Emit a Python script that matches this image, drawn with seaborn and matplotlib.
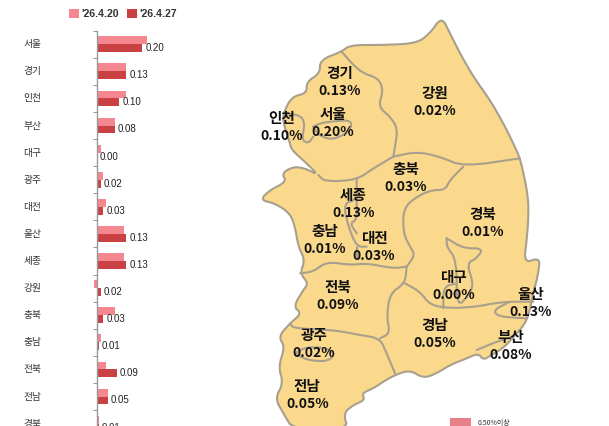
import numpy as np
import pandas as pd
import matplotlib
matplotlib.use("Agg")
import matplotlib.pyplot as plt
from matplotlib.patches import Polygon, Rectangle
from matplotlib.transforms import blended_transform_factory
import seaborn as sns

sns.set_theme(style="white")
plt.rcParams['font.family'] = ['Noto Sans CJK KR', 'DejaVu Sans']

# Bar chart data
regions = ["서울", "경기", "인천", "부산", "대구", "광주", "대전", "울산",
           "세종", "강원", "충북", "충남", "전북", "전남", "경북"]
week_prev = [0.22, 0.13, 0.13, 0.08, 0.02, 0.03, 0.04, 0.12,
             0.12, -0.01, 0.08, 0.02, 0.04, 0.05, 0.01]
week_last = [0.20, 0.13, 0.10, 0.08, 0.00, 0.02, 0.03, 0.13,
             0.13, 0.02, 0.03, 0.01, 0.09, 0.05, 0.01]
week_names = ["'26.4.20", "'26.4.27"]
bar_colors = ["#F58790", "#C94143"]

# Map labels: name, value, centre in zoom-crop coordinates
map_names = ["경기", "서울", "인천", "강원", "충북", "세종", "충남", "대전", "경북",
             "대구", "울산", "전북", "경남", "부산", "광주", "전남"]
map_values = ["0.13%", "0.20%", "0.10%", "0.02%", "0.03%", "0.13%", "0.01%", "0.03%", "0.01%",
              "0.00%", "0.13%", "0.09%", "0.05%", "0.08%", "0.02%", "0.05%"]
map_x = [268, 248, 95, 554, 466, 310, 225, 372, 697, 611, 843, 264, 555, 782, 192, 172]
map_y = [245, 370, 382, 306, 535, 612, 720, 742, 668, 858, 910, 888, 1002, 1038, 1033, 1185]

# Map shape
outline = [(575, 50), (600, 100), (630, 160), (670, 230), (720, 300), (760, 370), (790, 430),
           (810, 475), (825, 540), (835, 600), (835, 660), (830, 720), (822, 790), (870, 772),
           (865, 820), (850, 880), (835, 950), (815, 985), (790, 1010), (765, 1040), (725, 1065),
           (700, 1080), (685, 1060), (650, 1075), (600, 1095), (560, 1120), (520, 1135),
           (480, 1110), (435, 1125), (400, 1145), (370, 1165), (335, 1180), (345, 1200),
           (310, 1215), (280, 1240), (295, 1290), (130, 1290), (100, 1240), (75, 1195),
           (100, 1150), (85, 1100), (105, 1040), (85, 1010), (120, 970), (155, 940), (130, 920),
           (160, 870), (175, 850), (150, 820), (165, 780), (145, 740), (135, 680), (120, 640),
           (75, 610), (30, 600), (60, 570), (110, 545), (95, 520), (130, 500), (165, 505),
           (205, 525), (170, 490), (125, 450), (120, 430), (100, 370), (100, 340), (125, 290),
           (170, 280), (170, 245), (210, 220), (210, 180), (275, 155), (300, 135), (400, 135),
           (500, 130), (540, 100)]
borders = [
    [(275, 155), (310, 195), (340, 220), (385, 235), (400, 270), (385, 320), (420, 350),
     (443, 385), (435, 440), (430, 470)],
    [(205, 525), (225, 545), (320, 540), (370, 505), (430, 470)],
    [(430, 470), (500, 455), (570, 470), (640, 500), (810, 475)],
    [(640, 500), (600, 540), (585, 570), (545, 570), (500, 590), (460, 625), (460, 700),
     (480, 740), (495, 765), (470, 800)],
    [(320, 540), (320, 600), (280, 610), (295, 680), (320, 740), (350, 740)],
    [(320, 600), (320, 660), (300, 670), (320, 700)],
    [(150, 820), (190, 815), (230, 785), (300, 795), (350, 790), (430, 805), (470, 800)],
    [(320, 740), (320, 770)],
    [(470, 800), (465, 850), (420, 880), (410, 950), (420, 1000), (390, 1015)],
    [(465, 850), (510, 875), (540, 915), (600, 925), (680, 920), (730, 910), (780, 905), (850, 905)],
    [(120, 970), (130, 985), (250, 990), (330, 1005), (390, 1015), (410, 1060), (435, 1120)],
    [(135, 1060), (170, 1040), (235, 1045), (255, 1065), (230, 1085), (170, 1080), (135, 1060)],
    [(590, 715), (640, 745), (700, 745), (680, 775), (650, 790), (670, 850), (660, 880), (620, 925),
     (620, 780), (590, 740), (590, 715)],
    [(580, 925), (580, 860), (620, 850)],
    [(780, 905), (730, 930), (745, 950), (830, 955)],
    [(680, 1050), (740, 1025), (790, 1010)],
    [(190, 380), (210, 370), (240, 365), (300, 360), (305, 380), (290, 400), (245, 420),
     (205, 405), (190, 380)],
    [(100, 340), (150, 345), (165, 370), (155, 420), (175, 430), (190, 410)],
]


def crop_to_px(pts):
    return [(250 + x / 3, y / 3) for x, y in pts]


def soften(pts, closed=False, rounds=2):
    # corner cutting, so the traced borders don't look so angular
    pts = np.array(pts, dtype=float)
    for _ in range(rounds):
        a = pts if closed else pts[:-1]
        b = np.roll(pts, -1, axis=0) if closed else pts[1:]
        q = 0.75 * a + 0.25 * b
        r = 0.25 * a + 0.75 * b
        new = np.empty((len(a) * 2, 2))
        new[0::2] = q
        new[1::2] = r
        if not closed:
            new = np.vstack([pts[0], new, pts[-1]])
        pts = new
    return pts


fig = plt.figure(figsize=(6.09, 4.26), dpi=100)
W, H = 609, 426

# Map layer in pixel coordinates
map_ax = fig.add_axes([0, 0, 1, 1])
map_ax.set_xlim(0, W)
map_ax.set_ylim(H, 0)
map_ax.axis("off")
line_gray = "#A8A08C"
map_ax.add_patch(Polygon(soften(crop_to_px(outline), closed=True), closed=True, facecolor="#FAD88C",
                         edgecolor=line_gray, linewidth=1.5, joinstyle="round"))
for b in borders:
    pts = soften(crop_to_px(b))
    map_ax.plot(pts[:, 0], pts[:, 1], color=line_gray, linewidth=1.5, solid_joinstyle="round")

for name, val, x, y in zip(map_names, map_values, map_x, map_y):
    px, py = crop_to_px([(x, y)])[0]
    map_ax.text(px, py - 9, name, ha="center", va="center", fontsize=10.5,
                color="#111111", fontweight="bold")
    map_ax.text(px, py + 9, val, ha="center", va="center", fontsize=10,
                color="#111111", fontweight="bold")

# Small legend at the bottom right
map_ax.add_patch(Rectangle((450, 418), 21, 10, facecolor="#E8808A", edgecolor="none"))
map_ax.text(478, 423, "0.50%이상", ha="left", va="center", fontsize=5, color="#333333")

# Bars
df = pd.DataFrame({"region": regions, week_names[0]: week_prev, week_names[1]: week_last})
long_df = df.melt(id_vars="region", var_name="week", value_name="value")

axis_x = 96.5
px_per_unit = 228
row_h = 27.1
top_px = 30.7
left_px, right_px = 90, 200
ax = fig.add_axes([left_px / W, 0, (right_px - left_px) / W, (H - top_px) / H])
ax.patch.set_alpha(0)
sns.barplot(data=long_df, y="region", x="value", hue="week", palette=bar_colors,
            orient="h", width=0.58, gap=0, saturation=1, linewidth=0, ax=ax)
ax.set_xlim((left_px - axis_x) / px_per_unit, (right_px - axis_x) / px_per_unit)
ax.set_ylim(-0.5 + (H - top_px) / row_h, -0.5)

for lab, v in zip(["{:.2f}".format(v) for v in week_last], ax.containers[1]):
    w = v.get_width()
    ax.annotate(lab, (w, v.get_y() + v.get_height() / 2), xytext=(2.2, 0),
                textcoords="offset points", ha="left", va="center", fontsize=7,
                family=["Liberation Sans", "DejaVu Sans"], color="#222222",
                annotation_clip=False)

sns.despine(ax=ax, left=False, bottom=True, right=True, top=True)
ax.spines["left"].set_position(("data", 0))
ax.spines["left"].set_color("#999999")
ax.spines["left"].set_linewidth(1)
ax.set_xticks([])
ax.set_xlabel("")
ax.set_ylabel("")
ax.set_yticks(np.arange(15) - 0.5)
ax.set_yticklabels([])
ax.tick_params(axis="y", left=True, length=3, width=0.8, color="#999999", pad=0)
ax.yaxis.set_ticks_position("left")

# Region names
trans = blended_transform_factory(fig.transFigure, ax.transData)
for i, r in enumerate(regions):
    ax.text(32.5 / W, i, r, transform=trans, ha="center", va="center", fontsize=7,
            color="#333333", fontweight="medium", clip_on=False)

handles, labels = ax.get_legend_handles_labels()
ax.legend(handles, labels, ncol=2, frameon=False, loc="center left",
          prop={"family": ["Liberation Sans", "DejaVu Sans"], "size": 7.6, "weight": "bold"},
          bbox_to_anchor=(69 / W, 1 - 14 / H), bbox_transform=fig.transFigure,
          handlelength=0.9, handleheight=0.9, handletextpad=0.3, columnspacing=0.75,
          borderpad=0, borderaxespad=0, labelcolor="#333333")

fig.savefig("out.png", dpi=100)
